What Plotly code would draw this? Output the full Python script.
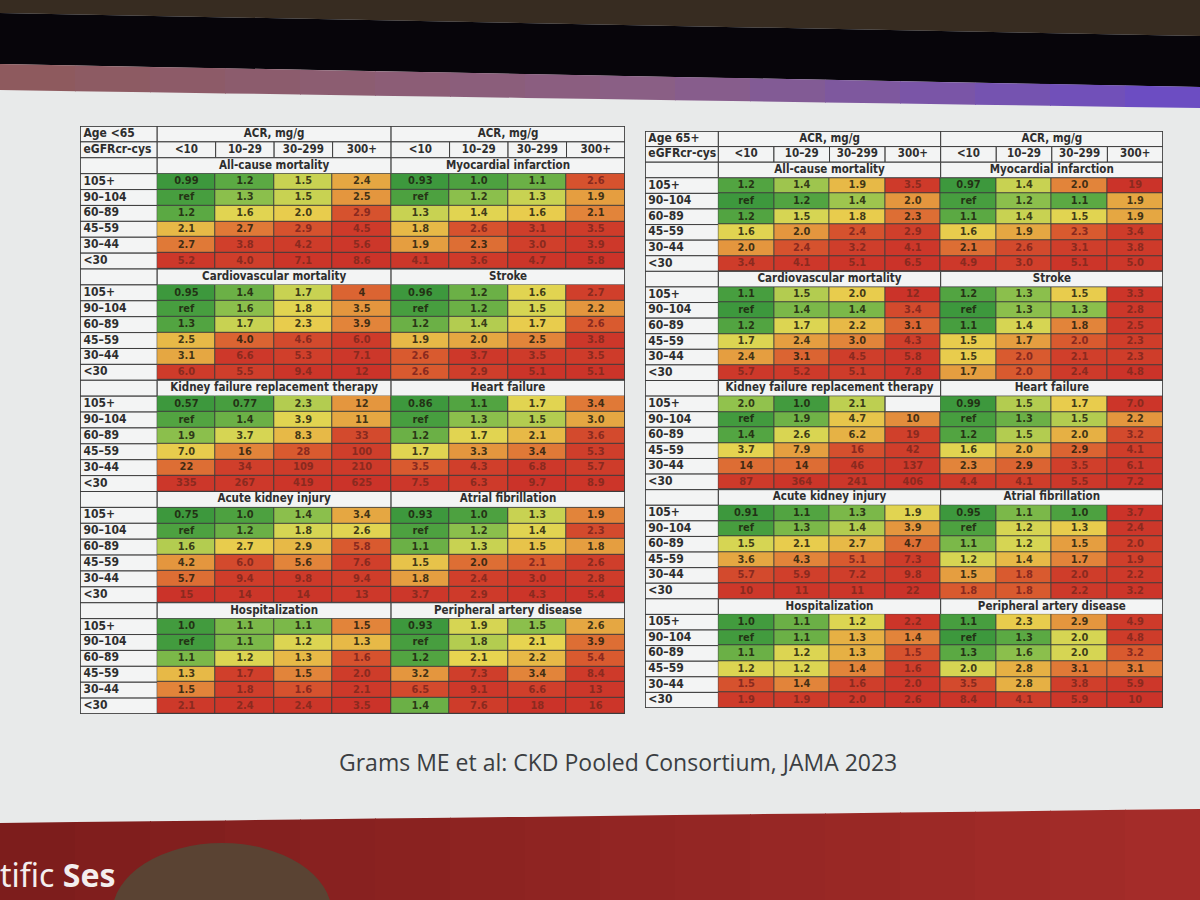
import numpy as np
import plotly.graph_objects as go

W, H = 1200, 900

# ---------------- data ----------------
row_labels = ["105+", "90–104", "60–89", "45–59", "30–44", "<30"]
acr_labels = ["<10", "10–29", "30–299", "300+"]
age_titles = ["Age <65", "Age 65+"]
egfr_title = "eGFRcr-cys"
acr_title = "ACR, mg/g"
outcomes_col1 = ["All-cause mortality", "Cardiovascular mortality",
                 "Kidney failure replacement therapy", "Acute kidney injury", "Hospitalization"]
outcomes_col2 = ["Myocardial infarction", "Stroke", "Heart failure",
                 "Atrial fibrillation", "Peripheral artery disease"]
citation = "Grams ME et al: CKD Pooled Consortium, JAMA 2023"
banner_text = "tific <b>Ses</b>"

# Age <65
acm_u65 = [["0.99", "1.2", "1.5", "2.4"], ["ref", "1.3", "1.5", "2.5"], ["1.2", "1.6", "2.0", "2.9"],
           ["2.1", "2.7", "2.9", "4.5"], ["2.7", "3.8", "4.2", "5.6"], ["5.2", "4.0", "7.1", "8.6"]]
mi_u65 = [["0.93", "1.0", "1.1", "2.6"], ["ref", "1.2", "1.3", "1.9"], ["1.3", "1.4", "1.6", "2.1"],
          ["1.8", "2.6", "3.1", "3.5"], ["1.9", "2.3", "3.0", "3.9"], ["4.1", "3.6", "4.7", "5.8"]]
cvm_u65 = [["0.95", "1.4", "1.7", "4"], ["ref", "1.6", "1.8", "3.5"], ["1.3", "1.7", "2.3", "3.9"],
           ["2.5", "4.0", "4.6", "6.0"], ["3.1", "6.6", "5.3", "7.1"], ["6.0", "5.5", "9.4", "12"]]
stroke_u65 = [["0.96", "1.2", "1.6", "2.7"], ["ref", "1.2", "1.5", "2.2"], ["1.2", "1.4", "1.7", "2.6"],
              ["1.9", "2.0", "2.5", "3.8"], ["2.6", "3.7", "3.5", "3.5"], ["2.6", "2.9", "5.1", "5.1"]]
kfrt_u65 = [["0.57", "0.77", "2.3", "12"], ["ref", "1.4", "3.9", "11"], ["1.9", "3.7", "8.3", "33"],
            ["7.0", "16", "28", "100"], ["22", "34", "109", "210"], ["335", "267", "419", "625"]]
hf_u65 = [["0.86", "1.1", "1.7", "3.4"], ["ref", "1.3", "1.5", "3.0"], ["1.2", "1.7", "2.1", "3.6"],
          ["1.7", "3.3", "3.4", "5.3"], ["3.5", "4.3", "6.8", "5.7"], ["7.5", "6.3", "9.7", "8.9"]]
aki_u65 = [["0.75", "1.0", "1.4", "3.4"], ["ref", "1.2", "1.8", "2.6"], ["1.6", "2.7", "2.9", "5.8"],
           ["4.2", "6.0", "5.6", "7.6"], ["5.7", "9.4", "9.8", "9.4"], ["15", "14", "14", "13"]]
af_u65 = [["0.93", "1.0", "1.3", "1.9"], ["ref", "1.2", "1.4", "2.3"], ["1.1", "1.3", "1.5", "1.8"],
          ["1.5", "2.0", "2.1", "2.6"], ["1.8", "2.4", "3.0", "2.8"], ["3.7", "2.9", "4.3", "5.4"]]
hosp_u65 = [["1.0", "1.1", "1.1", "1.5"], ["ref", "1.1", "1.2", "1.3"], ["1.1", "1.2", "1.3", "1.6"],
            ["1.3", "1.7", "1.5", "2.0"], ["1.5", "1.8", "1.6", "2.1"], ["2.1", "2.4", "2.4", "3.5"]]
pad_u65 = [["0.93", "1.9", "1.5", "2.6"], ["ref", "1.8", "2.1", "3.9"], ["1.2", "2.1", "2.2", "5.4"],
           ["3.2", "7.3", "3.4", "8.4"], ["6.5", "9.1", "6.6", "13"], ["1.4", "7.6", "18", "16"]]

# Age 65+
acm_o65 = [["1.2", "1.4", "1.9", "3.5"], ["ref", "1.2", "1.4", "2.0"], ["1.2", "1.5", "1.8", "2.3"],
           ["1.6", "2.0", "2.4", "2.9"], ["2.0", "2.4", "3.2", "4.1"], ["3.4", "4.1", "5.1", "6.5"]]
mi_o65 = [["0.97", "1.4", "2.0", "19"], ["ref", "1.2", "1.1", "1.9"], ["1.1", "1.4", "1.5", "1.9"],
          ["1.6", "1.9", "2.3", "3.4"], ["2.1", "2.6", "3.1", "3.8"], ["4.9", "3.0", "5.1", "5.0"]]
cvm_o65 = [["1.1", "1.5", "2.0", "12"], ["ref", "1.4", "1.4", "3.4"], ["1.2", "1.7", "2.2", "3.1"],
           ["1.7", "2.4", "3.0", "4.3"], ["2.4", "3.1", "4.5", "5.8"], ["5.7", "5.2", "5.1", "7.8"]]
stroke_o65 = [["1.2", "1.3", "1.5", "3.3"], ["ref", "1.3", "1.3", "2.8"], ["1.1", "1.4", "1.8", "2.5"],
              ["1.5", "1.7", "2.0", "2.3"], ["1.5", "2.0", "2.1", "2.3"], ["1.7", "2.0", "2.4", "4.8"]]
kfrt_o65 = [["2.0", "1.0", "2.1", ""], ["ref", "1.9", "4.7", "10"], ["1.4", "2.6", "6.2", "19"],
            ["3.7", "7.9", "16", "42"], ["14", "14", "46", "137"], ["87", "364", "241", "406"]]
hf_o65 = [["0.99", "1.5", "1.7", "7.0"], ["ref", "1.3", "1.5", "2.2"], ["1.2", "1.5", "2.0", "3.2"],
          ["1.6", "2.0", "2.9", "4.1"], ["2.3", "2.9", "3.5", "6.1"], ["4.4", "4.1", "5.5", "7.2"]]
aki_o65 = [["0.91", "1.1", "1.3", "1.9"], ["ref", "1.3", "1.4", "3.9"], ["1.5", "2.1", "2.7", "4.7"],
           ["3.6", "4.3", "5.1", "7.3"], ["5.7", "5.9", "7.2", "9.8"], ["10", "11", "11", "22"]]
af_o65 = [["0.95", "1.1", "1.0", "3.7"], ["ref", "1.2", "1.3", "2.4"], ["1.1", "1.2", "1.5", "2.0"],
          ["1.2", "1.4", "1.7", "1.9"], ["1.5", "1.8", "2.0", "2.2"], ["1.8", "1.8", "2.2", "3.2"]]
hosp_o65 = [["1.0", "1.1", "1.2", "2.2"], ["ref", "1.1", "1.3", "1.4"], ["1.1", "1.2", "1.3", "1.5"],
            ["1.2", "1.2", "1.4", "1.6"], ["1.5", "1.4", "1.6", "2.0"], ["1.9", "1.9", "2.0", "2.6"]]
pad_o65 = [["1.1", "2.3", "2.9", "4.9"], ["ref", "1.3", "2.0", "4.8"], ["1.3", "1.6", "2.0", "3.2"],
           ["2.0", "2.8", "3.1", "3.1"], ["3.5", "2.8", "3.8", "5.9"], ["8.4", "4.1", "5.9", "10"]]

panels = [
    ([acm_u65, cvm_u65, kfrt_u65, aki_u65, hosp_u65], [mi_u65, stroke_u65, hf_u65, af_u65, pad_u65]),
    ([acm_o65, cvm_o65, kfrt_o65, aki_o65, hosp_o65], [mi_o65, stroke_o65, hf_o65, af_o65, pad_o65]),
]

# ---------------- styling ----------------
FONT = "Liberation Sans Narrow, DejaVu Sans Condensed, Arial Narrow, sans-serif"
GRID = "#3d3d3d"
CELL_WHITE = "#f3f4f4"
colorscale = [
    [0.00, "#3d983d"], [0.10, "#55a642"], [0.18, "#8fc14d"], [0.25, "#d3d553"],
    [0.33, "#e8d450"], [0.42, "#e6ad43"], [0.52, "#e2853a"], [0.60, "#da5d30"],
    [0.68, "#d0402b"], [1.00, "#cb3329"],
]
LBL = 1.32
NROWS = 2 + 7 * 5
panel_px = [  # x0, x1, y0(top), y1(bottom) in pixels
    (80, 625, 126, 714),
    (645, 1163, 131, 708),
]


def px_x(v):
    return v / W


def px_y(v):
    return 1 - v / H


def parse(v):
    if v == "ref":
        return 1.0
    if v == "":
        return np.nan
    return float(v)


def rank_frac(table):
    vals = np.array([[parse(v) for v in row] for row in table], dtype=float)
    flat = vals[~np.isnan(vals)]
    n = len(flat)
    out = np.full(vals.shape, np.nan)
    for idx in np.ndindex(vals.shape):
        v = vals[idx]
        if np.isnan(v):
            continue
        less = (flat < v).sum()
        eq = (flat == v).sum()
        out[idx] = (less + (eq - 1) / 2) / (n - 1)
    return out


fig = go.Figure()
shapes = []
annotations = []

for k, (col1, col2) in enumerate(panels):
    xa = "x" if k == 0 else f"x{k + 1}"
    ya = "y" if k == 0 else f"y{k + 1}"
    z = np.full((NROWS - 2, 8), np.nan)
    vx, vy, vt, vc = [], [], [], []
    for b in range(5):
        for t, tables in enumerate((col1, col2)):
            table = tables[b]
            fr = rank_frac(table)
            for i in range(6):
                r = 3 + 7 * b + i
                for c in range(4):
                    cc = 4 * t + c
                    z[r - 2, cc] = fr[i, c]
                    val = table[i][c]
                    if val == "":
                        shapes.append(dict(type="rect", xref=xa, yref=ya, x0=LBL + cc, x1=LBL + cc + 1,
                                           y0=r, y1=r + 1, fillcolor=CELL_WHITE,
                                           line=dict(color=GRID, width=1), layer="below"))
                        continue
                    vx.append(LBL + cc + 0.5)
                    vy.append(r + 0.5)
                    vt.append(val)
                    vc.append("#8a2a1f" if fr[i, c] > 0.6 else "rgba(28,26,12,0.82)")

    fig.add_trace(go.Heatmap(
        x=[LBL + 0.5 + c for c in range(8)],
        y=[r + 0.5 for r in range(2, NROWS)],
        z=z, colorscale=colorscale, zmin=0, zmax=1, showscale=False,
        xgap=1, ygap=1, hoverinfo="skip", xaxis=xa, yaxis=ya,
    ))
    fig.add_trace(go.Scatter(
        x=vx, y=vy, text=vt, mode="text", xaxis=xa, yaxis=ya, hoverinfo="skip",
        textfont=dict(family=FONT, size=11, color=vc, weight="bold"), showlegend=False,
    ))

    # label column cells and texts
    lx, ly, lt = [], [], []
    for r in range(NROWS):
        shapes.append(dict(type="rect", xref=xa, yref=ya, x0=0, x1=LBL, y0=r, y1=r + 1,
                           fillcolor=CELL_WHITE, line=dict(color=GRID, width=1), layer="below"))
    lx += [0.06, 0.06]
    ly += [0.5, 1.5]
    lt += [age_titles[k], egfr_title]
    for b in range(5):
        for i, lab in enumerate(row_labels):
            lx.append(0.06)
            ly.append(3 + 7 * b + i + 0.5)
            lt.append(lab)
    fig.add_trace(go.Scatter(
        x=lx, y=ly, text=lt, mode="text", textposition="middle right", xaxis=xa, yaxis=ya,
        hoverinfo="skip", showlegend=False,
        textfont=dict(family=FONT, size=12, color="#2e2e2e", weight="bold"),
    ))

    # header and title cells
    hx, hy, ht = [], [], []
    for t, names in enumerate((outcomes_col1, outcomes_col2)):
        x0 = LBL + 4 * t
        shapes.append(dict(type="rect", xref=xa, yref=ya, x0=x0, x1=x0 + 4, y0=0, y1=1,
                           fillcolor=CELL_WHITE, line=dict(color=GRID, width=1), layer="below"))
        hx.append(x0 + 2)
        hy.append(0.5)
        ht.append(acr_title)
        for c, lab in enumerate(acr_labels):
            shapes.append(dict(type="rect", xref=xa, yref=ya, x0=x0 + c, x1=x0 + c + 1, y0=1, y1=2,
                               fillcolor=CELL_WHITE, line=dict(color=GRID, width=1), layer="below"))
            hx.append(x0 + c + 0.5)
            hy.append(1.5)
            ht.append(lab)
        for b, name in enumerate(names):
            r = 2 + 7 * b
            shapes.append(dict(type="rect", xref=xa, yref=ya, x0=x0, x1=x0 + 4, y0=r, y1=r + 1,
                               fillcolor=CELL_WHITE, line=dict(color=GRID, width=1), layer="below"))
            hx.append(x0 + 2)
            hy.append(r + 0.5)
            ht.append(name)
    fig.add_trace(go.Scatter(
        x=hx, y=hy, text=ht, mode="text", xaxis=xa, yaxis=ya, hoverinfo="skip", showlegend=False,
        textfont=dict(family=FONT, size=11.5, color="#2e2e2e", weight="bold"),
    ))
    shapes.append(dict(type="rect", xref=xa, yref=ya, x0=0, x1=LBL + 8, y0=0, y1=NROWS,
                       line=dict(color=GRID, width=1.5), layer="above"))

    p = panel_px[k]
    axkey = "" if k == 0 else str(k + 1)
    fig.update_layout(**{
        f"xaxis{axkey}": dict(domain=[px_x(p[0]), px_x(p[1])], range=[0, LBL + 8], visible=False,
                              fixedrange=True, anchor=ya),
        f"yaxis{axkey}": dict(domain=[px_y(p[3]), px_y(p[2])], range=[NROWS, 0], visible=False,
                              fixedrange=True, anchor=xa),
    })

# ---------------- slide / room background ----------------
def path(points):
    s = "M " + " L ".join(f"{px_x(a):.5f},{px_y(b):.5f}" for a, b in points) + " Z"
    return s


def lerp(a, b, t):
    return a + (b - a) * t


def mix(c1, c2, t):
    a = [int(c1[i:i + 2], 16) for i in (1, 3, 5)]
    b = [int(c2[i:i + 2], 16) for i in (1, 3, 5)]
    return "#" + "".join(f"{int(round(lerp(a[j], b[j], t))):02x}" for j in range(3))


bg = []
bg.append(dict(type="path", xref="paper", yref="paper", path=path([(0, 0), (W, 0), (W, 36), (0, 13)]),
               fillcolor="#372c21", line=dict(width=0), layer="below"))
bg.append(dict(type="path", xref="paper", yref="paper", path=path([(0, 13), (W, 36), (W, 87), (0, 64)]),
               fillcolor="#07050a", line=dict(width=0), layer="below"))
nseg = 16
for i in range(nseg):
    xa0, xa1 = W * i / nseg, W * (i + 1) / nseg
    t = (i + 0.5) / nseg
    col = mix("#8e5a5c", "#8a5f86", t / 0.55) if t < 0.55 else mix("#8a5f86", "#6a4cc6", (t - 0.55) / 0.45)
    top0, top1 = lerp(64, 87, xa0 / W), lerp(64, 87, xa1 / W)
    bot0, bot1 = lerp(90, 108, xa0 / W), lerp(90, 108, xa1 / W)
    bg.append(dict(type="path", xref="paper", yref="paper",
                   path=path([(xa0, top0), (xa1 + 1, top1), (xa1 + 1, bot1), (xa0, bot0)]),
                   fillcolor=col, line=dict(width=0), layer="below"))
for i in range(nseg):
    xa0, xa1 = W * i / nseg, W * (i + 1) / nseg
    t = (i + 0.5) / nseg
    col = mix("#7c1c1c", "#a52d29", t)
    e0, e1 = lerp(823, 809, xa0 / W), lerp(823, 809, xa1 / W)
    bg.append(dict(type="path", xref="paper", yref="paper",
                   path=path([(xa0, e0), (xa1 + 1, e1), (xa1 + 1, H), (xa0, H)]),
                   fillcolor=col, line=dict(width=0), layer="below"))
bg.append(dict(type="circle", xref="paper", yref="paper", x0=px_x(112), x1=px_x(332),
               y0=px_y(985), y1=px_y(843), fillcolor="#5a4333", line=dict(width=0), layer="below"))

annotations.append(dict(text=citation, x=px_x(618), y=px_y(762), xref="paper", yref="paper",
                        showarrow=False, xanchor="center", yanchor="middle",
                        font=dict(family="Open Sans, Noto Sans, sans-serif", size=23, color="#3b3e42")))
annotations.append(dict(text=banner_text, x=px_x(-2), y=px_y(874), xref="paper", yref="paper",
                        showarrow=False, xanchor="left", yanchor="middle",
                        font=dict(family="Noto Sans, Open Sans, sans-serif", size=32, color="#f4eeee")))

fig.update_layout(
    width=W, height=H, margin=dict(l=0, r=0, t=0, b=0),
    paper_bgcolor="#e8eaea", plot_bgcolor=GRID, showlegend=False,
    shapes=bg + shapes, annotations=annotations,
)

fig.write_html("out.html", config={"displayModeBar": False},
               post_script="document.body.style.margin='0';document.body.style.overflow='hidden';")
